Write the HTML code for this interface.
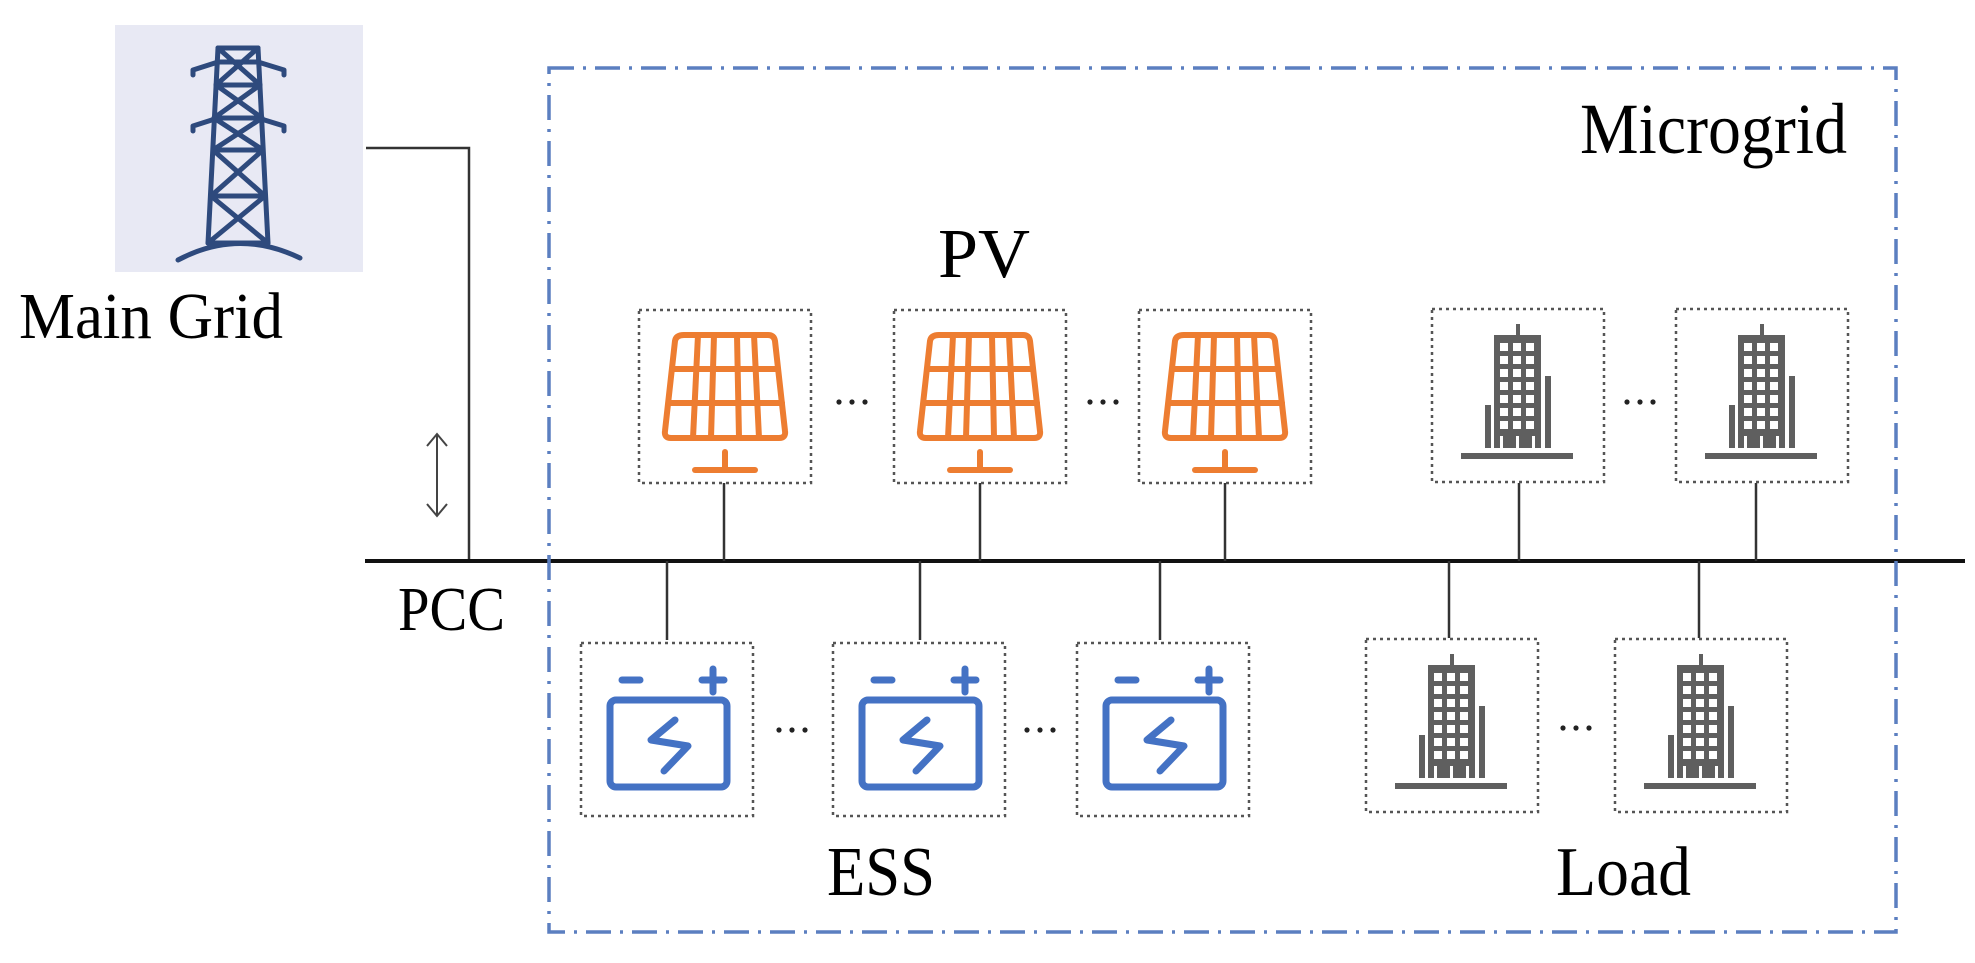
<!DOCTYPE html>
<html><head><meta charset="utf-8"><style>
html,body{margin:0;padding:0;background:#fff}
svg{display:block}
text{font-family:"Liberation Serif",serif;fill:#000}
</style></head><body>
<svg width="1975" height="963" viewBox="0 0 1975 963" xmlns="http://www.w3.org/2000/svg">
<defs>
  <g id="pv">
    <rect x="1" y="1" width="172" height="173" fill="none" stroke="#555" stroke-width="2.5" stroke-dasharray="3,4"/>
    <g fill="none" stroke="#ED7D31" stroke-width="6" stroke-linejoin="round" stroke-linecap="round">
      <path d="M46 26 L130 26 Q136 26 137 32 L147 122 Q148 129 141 129 L33 129 Q26 129 27 122 L37 32 Q38 26 46 26 Z"/>
      <line x1="34" y1="60" x2="140" y2="60"/>
      <line x1="31" y1="94" x2="144" y2="94"/>
      <line x1="60" y1="26" x2="55" y2="129"/>
      <line x1="76" y1="26" x2="73" y2="129"/>
      <line x1="99" y1="26" x2="101" y2="129"/>
      <line x1="116" y1="26" x2="121" y2="129"/>
      <line x1="87" y1="143" x2="87" y2="160"/>
      <line x1="57" y1="161" x2="117" y2="161"/>
    </g>
  </g>
  <g id="bat">
    <rect x="1" y="1" width="172" height="173" fill="none" stroke="#555" stroke-width="2.5" stroke-dasharray="3,4"/>
    <g fill="none" stroke="#4472C4" stroke-width="7" stroke-linejoin="round" stroke-linecap="round">
      <rect x="30" y="58" width="117" height="87" rx="6"/>
      <line x1="42" y1="38" x2="60" y2="38"/>
      <line x1="122" y1="38" x2="144" y2="38"/>
      <line x1="133" y1="27" x2="133" y2="50"/>
      <polyline points="95,78 71,98 108,104 84,129"/>
    </g>
  </g>
  <g id="bld">
    <rect x="1" y="1" width="172" height="173" fill="none" stroke="#555" stroke-width="2.5" stroke-dasharray="3,4"/>
    <g fill="#5f5f5f">
      <rect x="85" y="16" width="4" height="12"/>
      <rect x="63" y="27" width="47" height="113"/>
      <rect x="54" y="97" width="6" height="43"/>
      <rect x="114" y="68" width="6" height="72"/>
      <rect x="30" y="145" width="112" height="6"/>
    </g>
    <g fill="#fff">
      <rect x="69" y="35" width="8" height="8"/><rect x="82" y="35" width="8" height="8"/><rect x="95" y="35" width="8" height="8"/>
      <rect x="69" y="48" width="8" height="8"/><rect x="82" y="48" width="8" height="8"/><rect x="95" y="48" width="8" height="8"/>
      <rect x="69" y="61" width="8" height="8"/><rect x="82" y="61" width="8" height="8"/><rect x="95" y="61" width="8" height="8"/>
      <rect x="69" y="74" width="8" height="8"/><rect x="82" y="74" width="8" height="8"/><rect x="95" y="74" width="8" height="8"/>
      <rect x="69" y="87" width="8" height="8"/><rect x="82" y="87" width="8" height="8"/><rect x="95" y="87" width="8" height="8"/>
      <rect x="69" y="100" width="8" height="8"/><rect x="82" y="100" width="8" height="8"/><rect x="95" y="100" width="8" height="8"/>
      <rect x="69" y="113" width="8" height="8"/><rect x="82" y="113" width="8" height="8"/><rect x="95" y="113" width="8" height="8"/>
      <rect x="69" y="128" width="3" height="12"/><rect x="85" y="128" width="3" height="12"/><rect x="101" y="128" width="3" height="12"/>
    </g>
  </g>
  <g id="dots" fill="#222"><circle cx="-13" cy="0" r="2.6"/><circle cx="0" cy="0" r="2.6"/><circle cx="13" cy="0" r="2.6"/></g>
</defs>

<!-- tower -->
<rect x="115" y="25" width="248" height="247" fill="#E8E9F4"/>
<g fill="none" stroke="#2E4A7D" stroke-width="5" stroke-linejoin="round" stroke-linecap="round">
  <line x1="218" y1="48" x2="258" y2="48"/>
  <path d="M193 75 L193 70 L218 62 L258 62 L284 70 L284 75"/>
  <path d="M193 131 L193 126 L218 118 L258 118 L284 126 L284 131"/>
  <line x1="218" y1="48" x2="208" y2="243"/>
  <line x1="258" y1="48" x2="268" y2="243"/>
  <line x1="216" y1="85" x2="260" y2="85"/>
  <line x1="214" y1="118" x2="262" y2="118"/>
  <line x1="213" y1="150" x2="263" y2="150"/>
  <line x1="211" y1="196" x2="265" y2="196"/>
  <line x1="218" y1="48" x2="260" y2="85"/><line x1="258" y1="48" x2="216" y2="85"/>
  <line x1="216" y1="85" x2="262" y2="118"/><line x1="260" y1="85" x2="214" y2="118"/>
  <line x1="214" y1="118" x2="263" y2="150"/><line x1="262" y1="118" x2="213" y2="150"/>
  <line x1="213" y1="150" x2="265" y2="196"/><line x1="263" y1="150" x2="211" y2="196"/>
  <line x1="211" y1="196" x2="268" y2="243"/><line x1="265" y1="196" x2="208" y2="243"/>
  <line x1="208" y1="243" x2="268" y2="243"/>
  <path d="M178 260 Q238 228 300 258"/>
</g>
<text x="19" y="338" font-size="66" textLength="264" lengthAdjust="spacingAndGlyphs">Main Grid</text>

<!-- grid connection -->
<polyline points="366,148 469,148 469,561" fill="none" stroke="#333" stroke-width="2.5"/>
<g stroke="#444" stroke-width="2" fill="none">
  <line x1="437" y1="434" x2="437" y2="516"/>
  <polyline points="427,446 437,434 447,446"/>
  <polyline points="427,504 437,516 447,504"/>
</g>
<line x1="365" y1="561" x2="1965" y2="561" stroke="#111" stroke-width="4"/>
<text x="398" y="630" font-size="62" textLength="107" lengthAdjust="spacingAndGlyphs">PCC</text>

<!-- microgrid box -->
<rect x="549" y="68" width="1347" height="864" fill="none" stroke="#5B7FC0" stroke-width="3.5" stroke-dasharray="25,9,3,9"/>
<text x="1580" y="153" font-size="72" textLength="267" lengthAdjust="spacingAndGlyphs">Microgrid</text>
<text x="938" y="277" font-size="70" textLength="92" lengthAdjust="spacingAndGlyphs">PV</text>
<text x="827" y="895" font-size="70" textLength="108" lengthAdjust="spacingAndGlyphs">ESS</text>
<text x="1556" y="895" font-size="70" textLength="135" lengthAdjust="spacingAndGlyphs">Load</text>

<!-- connectors -->
<g stroke="#333" stroke-width="2.5">
  <line x1="724" y1="483" x2="724" y2="561"/>
  <line x1="980" y1="483" x2="980" y2="561"/>
  <line x1="1225" y1="483" x2="1225" y2="561"/>
  <line x1="1519" y1="483" x2="1519" y2="561"/>
  <line x1="1756" y1="483" x2="1756" y2="561"/>
  <line x1="667" y1="561" x2="667" y2="640"/>
  <line x1="920" y1="561" x2="920" y2="640"/>
  <line x1="1160" y1="561" x2="1160" y2="640"/>
  <line x1="1449" y1="561" x2="1449" y2="638"/>
  <line x1="1699" y1="561" x2="1699" y2="638"/>
</g>

<!-- top row -->
<use href="#pv" x="638" y="309"/>
<use href="#pv" x="893" y="309"/>
<use href="#pv" x="1138" y="309"/>
<use href="#bld" x="1431" y="308"/>
<use href="#bld" x="1675" y="308"/>
<use href="#dots" x="852" y="402"/>
<use href="#dots" x="1103" y="402"/>
<use href="#dots" x="1640" y="402"/>

<!-- bottom row -->
<use href="#bat" x="580" y="642"/>
<use href="#bat" x="832" y="642"/>
<use href="#bat" x="1076" y="642"/>
<use href="#bld" x="1365" y="638"/>
<use href="#bld" x="1614" y="638"/>
<use href="#dots" x="792" y="730"/>
<use href="#dots" x="1040" y="730"/>
<use href="#dots" x="1576" y="728"/>
</svg>
</body></html>
